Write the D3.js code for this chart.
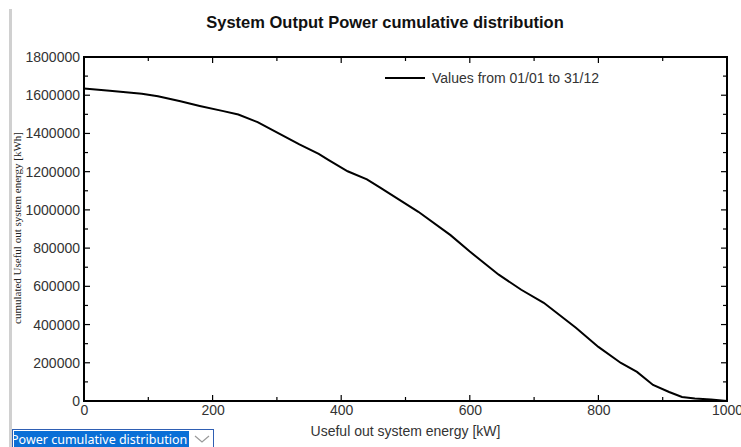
<!DOCTYPE html>
<html>
<head>
<meta charset="utf-8">
<script src="https://cdn.jsdelivr.net/npm/d3@7"></script>
<style>
  html, body { margin: 0; padding: 0; background: #fff; }
  svg { display: block; }
</style>
</head>
<body>
<svg id="chart" width="741" height="447"></svg>
<script>
// useful out system energy [kW] (x) and cumulated energy [kWh] (y)
const energyKW = [0, 40, 90, 115, 150, 180, 215, 240, 270, 305, 335, 365, 380, 410, 440, 460,
  520, 570, 600, 645, 680, 715, 765, 800, 835, 860, 885, 910, 930, 950, 975, 1000];
const cumulatedKWh = [1635000, 1623000, 1608000, 1595000, 1568000, 1544000, 1518000, 1499000,
  1459000, 1396000, 1343000, 1293000, 1262000, 1202000, 1160000, 1118000,
  990000, 868000, 782000, 661000, 582000, 514000, 383000, 283000, 199000, 152000,
  84000, 47000, 21000, 13000, 8000, 0];
const xTicks = [0, 200, 400, 600, 800, 1000];
const yTicks = [0, 200000, 400000, 600000, 800000, 1000000, 1200000, 1400000, 1600000, 1800000];
const legendLabel = "Values from 01/01 to 31/12";

const svg = d3.select("#chart");
const margin = {top: 57, right: 14, bottom: 46, left: 84};
const width = 741 - margin.left - margin.right,
      height = 447 - margin.top - margin.bottom;

const x = d3.scaleLinear().domain([0, 1000]).range([0, width]);
const y = d3.scaleLinear().domain([0, 1800000]).range([height, 0]);

// gray window edge on the left
svg.append("rect")
  .attr("x", 9).attr("y", 9).attr("width", 3).attr("height", 438)
  .attr("fill", "#d0d0d0");

// title
svg.append("text")
  .attr("x", 385).attr("y", 28)
  .attr("text-anchor", "middle")
  .style("font", "bold 16.5px 'Liberation Sans', Arial, sans-serif")
  .attr("fill", "#111")
  .text("System Output Power cumulative distribution");

const g = svg.append("g")
  .attr("transform", "translate(" + margin.left + "," + margin.top + ")");

// ticks drawn inward on all four sides
const minorX = d3.range(0, 1001, 100);
const minorY = d3.range(0, 1800001, 100000);
const tickG = g.append("g").attr("stroke", "#000").attr("stroke-width", 1.2);
minorX.forEach(function(v) {
  const len = v % 200 === 0 ? 6 : 4;
  tickG.append("line").attr("x1", x(v)).attr("x2", x(v)).attr("y1", height).attr("y2", height - len);
  tickG.append("line").attr("x1", x(v)).attr("x2", x(v)).attr("y1", 0).attr("y2", len);
});
minorY.forEach(function(v) {
  const len = v % 200000 === 0 ? 6 : 4;
  tickG.append("line").attr("x1", 0).attr("x2", len).attr("y1", y(v)).attr("y2", y(v));
  tickG.append("line").attr("x1", width).attr("x2", width - len).attr("y1", y(v)).attr("y2", y(v));
});

// tick labels via axes
const labelFont = "14px 'Liberation Sans', Arial, sans-serif";
const xAxis = g.append("g")
  .attr("transform", "translate(0," + height + ")")
  .call(d3.axisBottom(x).tickValues(xTicks).tickSize(0).tickPadding(4).tickFormat(d3.format("d")));
xAxis.select(".domain").remove();
xAxis.selectAll("text").style("font", labelFont).attr("fill", "#333");

const yAxis = g.append("g")
  .call(d3.axisLeft(y).tickValues(yTicks).tickSize(0).tickPadding(4).tickFormat(d3.format("d")));
yAxis.select(".domain").remove();
yAxis.selectAll("text").style("font", labelFont).attr("fill", "#333");

// frame
g.append("rect")
  .attr("x", 0).attr("y", 0).attr("width", width).attr("height", height)
  .attr("fill", "none").attr("stroke", "#000").attr("stroke-width", 2);

// the curve
const line = d3.line()
  .x(function(d, i) { return x(energyKW[i]); })
  .y(function(d) { return y(d); });
g.append("path")
  .datum(cumulatedKWh)
  .attr("d", line)
  .attr("fill", "none")
  .attr("stroke", "#000")
  .attr("stroke-width", 2);

// legend
g.append("line")
  .attr("x1", 301).attr("x2", 341).attr("y1", 21).attr("y2", 21)
  .attr("stroke", "#000").attr("stroke-width", 2);
g.append("text")
  .attr("x", 348).attr("y", 26)
  .style("font", labelFont).attr("fill", "#333")
  .text(legendLabel);

// axis titles
svg.append("text")
  .attr("x", margin.left + width / 2).attr("y", 436)
  .attr("text-anchor", "middle")
  .style("font", labelFont).attr("fill", "#333")
  .text("Useful out system energy [kW]");
svg.append("text")
  .attr("transform", "translate(21,228) rotate(-90)")
  .attr("text-anchor", "middle")
  .style("font", "11px 'Liberation Serif', 'Times New Roman', serif")
  .attr("fill", "#222")
  .text("cumulated Useful out system energy [kWh]");

// dropdown at the bottom left
const dd = svg.append("g");
dd.append("clipPath").attr("id", "ddclip")
  .append("rect").attr("x", 14).attr("y", 431).attr("width", 175).attr("height", 17);
dd.append("rect")
  .attr("x", 12.5).attr("y", 429.5).attr("width", 201).attr("height", 20)
  .attr("fill", "#fff").attr("stroke", "#2f5fb3").attr("stroke-width", 1);
dd.append("rect")
  .attr("x", 14).attr("y", 431).attr("width", 175).attr("height", 17)
  .attr("fill", "#0a6fd6");
dd.append("text")
  .attr("x", 11).attr("y", 444)
  .attr("clip-path", "url(#ddclip)")
  .style("font", "12.5px 'Noto Sans', 'DejaVu Sans', sans-serif")
  .attr("fill", "#fff")
  .text("Power cumulative distribution");
dd.append("path")
  .attr("d", "M195,436 L202,442 L209,436")
  .attr("fill", "none").attr("stroke", "#999").attr("stroke-width", 1.2);
</script>
</body>
</html>
